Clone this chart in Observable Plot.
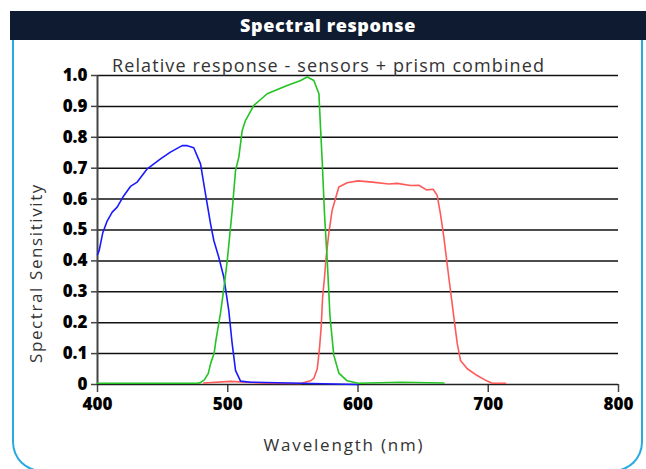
<!DOCTYPE html>
<html>
<head>
<meta charset="utf-8">
<script src="https://cdn.jsdelivr.net/npm/d3@7"></script>
<script src="https://cdn.jsdelivr.net/npm/@observablehq/plot@0.6"></script>
<style>
  html, body { margin: 0; padding: 0; background: #fff; }
  #wrap { position: relative; width: 646px; height: 469px; overflow: hidden; background: #fff; }
  #card { position: absolute; left: 12px; top: 11px; width: 631px; height: 461px; box-sizing: border-box;
          border: 2.5px solid #29abe2; border-top: none; border-radius: 0 0 30px 30px; }
  #titlebar { position: absolute; left: 10px; top: 11px; width: 636px; height: 29px; background: #0e1b30;
              color: #fff; font-family: "Open Sans", sans-serif; font-weight: 800; font-size: 18px;
              letter-spacing: 0.6px; text-align: center; line-height: 29px; }
  #chart { position: absolute; left: 0; top: 0; }
  .lbl { position: absolute; font-family: "Open Sans", sans-serif; color: #333; white-space: nowrap; }
  #sub { left: 112px; top: 53px; font-size: 18px; letter-spacing: 1.1px; }
  #xl { left: 344px; top: 433px; font-size: 17px; letter-spacing: 1.8px; transform: translateX(-50%); }
  #yl { left: 35px; top: 273px; font-size: 17px; letter-spacing: 1.6px; transform: translate(-50%, -50%) rotate(-90deg); }
</style>
</head>
<body>
<div id="wrap">
  <div id="card"></div>
  <div id="titlebar">Spectral response</div>
  <div id="chart"></div>
  <div class="lbl" id="sub">Relative response - sensors + prism combined</div>
  <div class="lbl" id="xl">Wavelength (nm)</div>
  <div class="lbl" id="yl">Spectral Sensitivity</div>
</div>
<script>
const xTicks = [400, 500, 600, 700, 800];
const yTicks = [0, 0.1, 0.2, 0.3, 0.4, 0.5, 0.6, 0.7, 0.8, 0.9, 1.0];
const yTickLabels = ["0", "0.1", "0.2", "0.3", "0.4", "0.5", "0.6", "0.7", "0.8", "0.9", "1.0"];

const blueWl = [400, 401.3, 404, 407.4, 411.3, 415.1, 420.2, 425.3, 430.5, 438.2, 448.4, 456, 465, 468.9, 473.9, 479.1, 482.9, 486.8, 489.3, 493.1, 497, 500.8, 503.4, 506, 509.8, 517.5, 556, 600];
const blueVal = [0.42, 0.434, 0.49, 0.529, 0.558, 0.574, 0.611, 0.641, 0.655, 0.698, 0.730, 0.752, 0.773, 0.773, 0.766, 0.714, 0.617, 0.520, 0.466, 0.412, 0.347, 0.239, 0.132, 0.045, 0.011, 0.0075, 0.004, 0.0];

const greenWl = [400, 476.5, 479, 482, 485, 487, 489.5, 491, 494.4, 497, 499.6, 503.4, 506, 508.5, 511.1, 513.6, 520, 530.3, 545.6, 556, 561, 566.1, 570, 571.2, 572.5, 574.3, 576.4, 578.5, 581.4, 585.3, 591.7, 600, 632.6, 666];
const greenVal = [0.004, 0.004, 0.006, 0.015, 0.035, 0.07, 0.10, 0.145, 0.23, 0.31, 0.40, 0.563, 0.693, 0.736, 0.822, 0.854, 0.903, 0.941, 0.968, 0.984, 0.995, 0.984, 0.941, 0.833, 0.725, 0.55, 0.40, 0.22, 0.095, 0.037, 0.012, 0.004, 0.0075, 0.005];

const redWl = [481.6, 502, 530, 556, 563.5, 566.1, 568.7, 570.5, 571.8, 572.8, 574.3, 575.5, 577.6, 580.2, 585.3, 591.7, 600, 611, 623.7, 630.1, 640.3, 646.7, 652.6, 657.7, 660.8, 663.3, 665.9, 669.7, 673.6, 676.2, 678.7, 683.9, 691.5, 699.2, 703, 713.3];
const redVal = [0.005, 0.01, 0.004, 0.003, 0.012, 0.02, 0.05, 0.12, 0.19, 0.28, 0.347, 0.41, 0.49, 0.565, 0.639, 0.653, 0.659, 0.655, 0.649, 0.651, 0.644, 0.645, 0.630, 0.632, 0.612, 0.552, 0.477, 0.347, 0.218, 0.132, 0.078, 0.051, 0.029, 0.011, 0.004, 0.004];

const toRows = (wl, val) => wl.map((w, i) => ({wl: w, v: val[i]}));
const blue = toRows(blueWl, blueVal);
const green = toRows(greenWl, greenVal);
const red = toRows(redWl, redVal);

const chart = Plot.plot({
  width: 646,
  height: 469,
  marginLeft: 97,
  marginRight: 28,
  marginTop: 75,
  marginBottom: 85,
  style: { fontFamily: "Open Sans", fontWeight: "800", fontSize: "17px", color: "#000", background: "transparent", overflow: "visible" },
  x: { domain: [400, 800] },
  y: { domain: [0, 1] },
  marks: [
    Plot.gridY(yTicks.slice(1), { stroke: "#111", strokeOpacity: 1, strokeWidth: 1.5 }),
    Plot.axisY({ ticks: yTicks, tickFormat: d => yTickLabels[yTicks.indexOf(d)], tickSize: 6, tickPadding: 4, stroke: "#444", strokeWidth: 1.5, label: null, fill: "#000" }),
    Plot.axisX({ ticks: xTicks, tickFormat: d => String(d), tickSize: 8, tickPadding: 5, stroke: "#444", strokeWidth: 1.5, label: null, fill: "#000" }),
    Plot.ruleX([400], { stroke: "#444", strokeWidth: 2 }),
    Plot.ruleY([0], { stroke: "#222", strokeWidth: 1.5 }),
    Plot.line(red, { x: "wl", y: "v", stroke: "#ff5a5a", strokeWidth: 1.6 }),
    Plot.line(blue, { x: "wl", y: "v", stroke: "#1a1aff", strokeWidth: 1.6 }),
    Plot.line(green, { x: "wl", y: "v", stroke: "#22c322", strokeWidth: 1.6 })
  ]
});
document.getElementById("chart").appendChild(chart);
</script>
</body>
</html>
